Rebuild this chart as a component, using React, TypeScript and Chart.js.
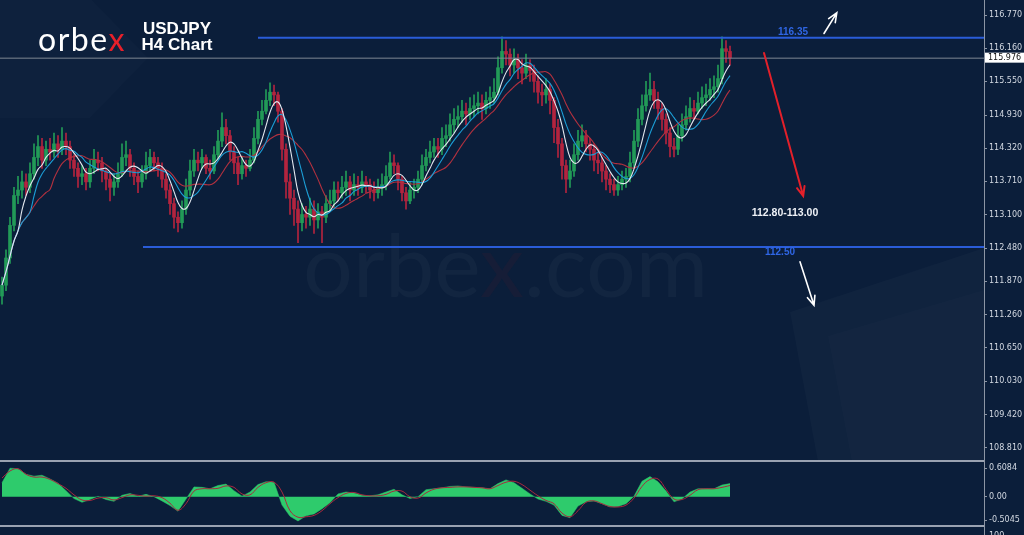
import React, { useEffect, useRef } from 'react';
import { Chart, registerables } from 'chart.js';

Chart.register(...registerables);

// ---------- DATA (USDJPY H4 candles) ----------
const opens = [
  111.60,111.80,112.30,112.90,113.45,113.55,113.70,113.60,113.85,114.15,
  114.35,114.10,114.30,114.25,114.40,114.30,114.45,114.35,114.10,113.95,
  113.80,113.85,113.70,113.95,114.10,114.05,113.90,113.75,113.60,113.70,
  113.85,114.15,114.20,113.95,113.80,113.70,113.85,114.00,114.15,114.05,
  113.95,113.75,113.55,113.30,113.05,112.95,113.20,113.55,113.90,114.10,
  114.05,114.15,113.95,113.90,114.20,114.45,114.70,114.55,114.25,114.05,
  113.85,114.00,113.95,114.10,114.50,114.85,115.00,115.20,115.35,115.30,
  115.00,114.30,113.70,113.40,113.20,112.95,113.10,113.05,113.20,113.00,
  113.15,113.05,113.30,113.35,113.55,113.50,113.60,113.70,113.55,113.65,
  113.60,113.70,113.65,113.55,113.50,113.60,113.65,113.80,114.05,114.00,
  113.75,113.50,113.35,113.55,113.60,113.75,114.00,114.15,114.25,114.35,
  114.30,114.50,114.55,114.75,114.85,114.90,115.00,114.95,115.05,115.10,
  115.15,115.05,115.20,115.25,115.35,115.80,116.10,116.05,115.85,115.95,
  115.80,115.70,115.85,115.75,115.55,115.35,115.30,115.40,115.20,114.70,
  114.40,114.00,113.75,113.90,114.20,114.45,114.55,114.40,114.30,114.10,
  114.05,113.90,113.75,113.65,113.55,113.65,113.75,113.80,114.05,114.45,
  114.85,115.10,115.30,115.40,115.20,115.05,114.85,114.60,114.35,114.30,
  114.55,114.75,114.90,115.05,115.00,115.15,115.25,115.30,115.40,115.45,
  115.60,116.15,116.10,
];
const highs = [
  111.95,112.45,113.05,113.60,113.80,113.90,113.85,114.05,114.40,114.55,
  114.50,114.45,114.50,114.60,114.55,114.70,114.60,114.45,114.20,114.05,
  114.00,113.95,114.10,114.30,114.25,114.15,113.95,113.85,113.85,114.05,
  114.40,114.45,114.30,114.05,113.90,114.00,114.25,114.30,114.25,114.15,
  114.05,113.85,113.65,113.40,113.15,113.35,113.75,114.10,114.30,114.25,
  114.30,114.20,114.10,114.35,114.65,114.97,114.85,114.65,114.35,114.15,
  114.15,114.10,114.30,114.70,115.00,115.20,115.40,115.52,115.48,115.35,
  115.05,114.40,113.85,113.55,113.35,113.30,113.25,113.40,113.35,113.30,
  113.25,113.45,113.55,113.70,113.70,113.80,113.90,113.80,113.85,113.80,
  113.90,113.80,113.75,113.70,113.75,113.85,114.00,114.25,114.20,114.05,
  113.80,113.60,113.70,113.75,113.90,114.20,114.30,114.45,114.50,114.50,
  114.70,114.75,114.95,115.05,115.10,115.20,115.15,115.25,115.30,115.35,
  115.30,115.35,115.45,115.60,116.00,116.37,116.30,116.15,116.15,116.05,
  115.95,116.05,115.95,115.85,115.65,115.50,115.60,115.50,115.25,114.85,
  114.50,114.10,114.10,114.40,114.65,114.75,114.65,114.50,114.40,114.25,
  114.15,114.00,113.85,113.75,113.80,113.90,113.95,114.25,114.65,115.05,
  115.30,115.55,115.70,115.55,115.35,115.15,114.95,114.70,114.50,114.75,
  114.95,115.10,115.25,115.20,115.35,115.45,115.50,115.60,115.65,115.85,
  116.37,116.30,116.20,
];
const lows = [
  111.45,111.70,112.20,112.80,113.30,113.40,113.45,113.50,113.75,114.00,
  113.95,114.00,114.10,114.15,114.15,114.20,114.20,113.95,113.80,113.60,
  113.65,113.55,113.60,113.85,113.90,113.70,113.55,113.35,113.45,113.60,
  113.80,114.00,113.80,113.65,113.50,113.60,113.75,113.90,113.90,113.80,
  113.60,113.40,113.10,112.85,112.78,112.85,113.10,113.45,113.80,113.90,
  113.95,113.85,113.75,113.85,114.10,114.35,114.40,114.10,113.85,113.65,
  113.75,113.80,113.90,114.05,114.40,114.75,114.95,115.10,115.10,114.80,
  114.10,113.40,113.10,112.90,112.58,112.80,112.85,112.90,112.75,112.85,
  112.58,112.95,113.15,113.25,113.35,113.40,113.45,113.35,113.45,113.45,
  113.50,113.50,113.40,113.35,113.40,113.45,113.55,113.75,113.85,113.55,
  113.35,113.20,113.30,113.40,113.50,113.65,113.90,114.05,114.15,114.15,
  114.20,114.35,114.45,114.60,114.70,114.80,114.75,114.85,114.90,114.95,
  114.85,114.95,115.05,115.15,115.30,115.70,115.85,115.65,115.70,115.60,
  115.50,115.60,115.55,115.35,115.15,115.10,115.15,114.95,114.42,114.15,
  113.75,113.50,113.60,113.80,114.10,114.35,114.25,114.10,113.90,113.85,
  113.70,113.55,113.50,113.45,113.45,113.55,113.60,113.70,113.95,114.35,
  114.75,115.00,115.20,115.05,114.85,114.65,114.40,114.16,114.16,114.20,
  114.45,114.65,114.80,114.85,114.95,115.05,115.10,115.20,115.25,115.35,
  115.50,115.90,115.85,
];
const closes = [
  111.80,112.30,112.90,113.45,113.55,113.70,113.60,113.85,114.15,114.35,
  114.10,114.30,114.25,114.40,114.30,114.45,114.35,114.10,113.95,113.80,
  113.85,113.70,113.95,114.10,114.05,113.90,113.75,113.60,113.70,113.85,
  114.15,114.20,113.95,113.80,113.70,113.85,114.00,114.15,114.05,113.95,
  113.75,113.55,113.30,113.05,112.95,113.20,113.55,113.90,114.10,114.05,
  114.15,113.95,113.90,114.20,114.45,114.70,114.55,114.25,114.05,113.85,
  114.00,113.95,114.10,114.50,114.85,115.00,115.20,115.35,115.30,115.00,
  114.30,113.70,113.40,113.20,112.95,113.10,113.05,113.20,113.00,113.15,
  113.05,113.30,113.35,113.55,113.50,113.60,113.70,113.55,113.65,113.60,
  113.70,113.65,113.55,113.50,113.60,113.65,113.80,114.05,114.00,113.75,
  113.50,113.35,113.55,113.60,113.75,114.00,114.15,114.25,114.35,114.30,
  114.50,114.55,114.75,114.85,114.90,115.00,114.95,115.05,115.10,115.15,
  115.05,115.20,115.25,115.35,115.80,116.10,116.05,115.85,115.95,115.80,
  115.70,115.85,115.75,115.55,115.35,115.30,115.40,115.20,114.70,114.40,
  114.00,113.75,113.90,114.20,114.45,114.55,114.40,114.30,114.10,114.05,
  113.90,113.75,113.65,113.55,113.65,113.75,113.80,114.05,114.45,114.85,
  115.10,115.30,115.40,115.20,115.05,114.85,114.60,114.35,114.30,114.55,
  114.75,114.90,115.05,115.00,115.15,115.25,115.30,115.40,115.45,115.60,
  116.15,116.10,115.98,
];

// Oscillator panel, read every second bar
const oscMain = [
  0.30,0.61,0.60,0.48,0.44,0.46,0.38,0.29,0.13,-0.04,
  -0.12,-0.06,0.01,-0.06,-0.10,0.03,0.07,0.01,0.05,0.00,
  -0.09,-0.19,-0.31,-0.05,0.21,0.20,0.17,0.24,0.27,0.13,
  0.01,0.10,0.26,0.32,0.31,-0.18,-0.42,-0.52,-0.41,-0.37,
  -0.26,-0.13,0.06,0.10,0.08,0.03,0.02,0.04,0.10,0.16,
  0.04,-0.04,0.00,0.15,0.17,0.19,0.22,0.23,0.21,0.20,
  0.19,0.17,0.28,0.36,0.30,0.18,0.06,-0.05,-0.10,-0.18,
  -0.40,-0.45,-0.20,-0.11,-0.09,-0.15,-0.22,-0.21,-0.15,0.01,
  0.33,0.43,0.32,0.12,-0.11,-0.05,0.10,0.17,0.17,0.17,
  0.25,0.28,
];
const oscSignal = [
  0.40,0.55,0.60,0.48,0.42,0.42,0.37,0.28,0.18,0.04,
  -0.07,-0.08,-0.03,-0.02,-0.07,-0.02,0.04,0.03,0.01,0.02,
  -0.02,-0.14,-0.29,-0.15,0.12,0.17,0.17,0.18,0.23,0.20,
  0.06,0.04,0.20,0.30,0.31,0.10,-0.30,-0.44,-0.43,-0.40,
  -0.30,-0.15,-0.02,0.07,0.09,0.04,0.02,0.02,0.05,0.12,
  0.12,0.00,-0.03,0.08,0.16,0.19,0.20,0.21,0.21,0.20,
  0.19,0.17,0.24,0.31,0.33,0.26,0.14,0.02,-0.08,-0.15,
  -0.35,-0.43,-0.30,-0.12,-0.09,-0.15,-0.21,-0.22,-0.18,-0.03,
  0.22,0.37,0.38,0.16,-0.05,-0.06,0.03,0.15,0.17,0.17,
  0.20,0.24,
];

const priceTicks = [116.77, 116.16, 115.55, 114.93, 114.32, 113.71, 113.10, 112.48, 111.87, 111.26, 110.65, 110.03, 109.42, 108.81];
const oscTicks = [0.6084, 0, -0.5045];
const oscTickLabels = ['0.6084', '0.00', '-0.5045'];
const maPeriods = [5, 8, 13];

const currentPrice = 115.976;
const resistance = 116.35;
const support = 112.5;
const resistanceStart = 64;
const supportStart = 35.25;
const levelLabels = [
  { text: '116.35', x: 197.75, y: 116.46 },
  { text: '112.50', x: 194.5, y: 112.41 },
];
const targetLabel = { text: '112.80-113.00', x: 195.75, y: 113.13 };
const arrows = [
  { from: [190.5, 116.07], to: [200.3, 113.44], color: '#e3202a', width: 2 },
  { from: [205.5, 116.43], to: [208.7, 116.81], color: '#ffffff', width: 1.6 },
  { from: [199.5, 112.23], to: [203.0, 111.43], color: '#ffffff', width: 1.6 },
];

// ---------- STYLE ----------
const BG = '#0b1e3a';
const UP = '#229a57';
const DOWN = '#b3243e';
const AXIS = '#8c95a4';
const LABEL = '#d3d9e2';
const X_MIN = -0.5;
const X_MAX = 245.5;
const AXIS_W = 40;
const TICK_FONT = { family: 'DejaVu Sans', size: 8 };

function sma(values: number[], n: number): number[] {
  return values.map((_, i) => {
    const s = Math.max(0, i - n + 1);
    let sum = 0;
    for (let j = s; j <= i; j++) sum += values[j];
    return sum / (i - s + 1);
  });
}

function drawArrow(ctx: CanvasRenderingContext2D, x1: number, y1: number, x2: number, y2: number, color: string, w: number) {
  const ang = Math.atan2(y2 - y1, x2 - x1);
  const head = 10;
  ctx.save();
  ctx.strokeStyle = color;
  ctx.lineWidth = w;
  ctx.lineCap = 'round';
  ctx.beginPath();
  ctx.moveTo(x1, y1);
  ctx.lineTo(x2, y2);
  ctx.moveTo(x2 - head * Math.cos(ang - 0.4), y2 - head * Math.sin(ang - 0.4));
  ctx.lineTo(x2, y2);
  ctx.lineTo(x2 - head * Math.cos(ang + 0.4), y2 - head * Math.sin(ang + 0.4));
  ctx.stroke();
  ctx.restore();
}

export default function App() {
  const mainRef = useRef<HTMLCanvasElement>(null);
  const oscRef = useRef<HTMLCanvasElement>(null);

  useEffect(() => {
    if (!mainRef.current || !oscRef.current) return;
    const colors = closes.map((c, i) => (c >= opens[i] ? UP : DOWN));
    const wickData = closes.map((_, i) => ({ x: i, y: [lows[i], highs[i]] }));
    const bodyData = closes.map((c, i) => {
      const lo = Math.min(opens[i], c);
      const hi = Math.max(opens[i], c);
      return { x: i, y: hi - lo < 0.02 ? [lo - 0.01, hi + 0.01] : [lo, hi] };
    });
    const [maFast, maMid, maSlow] = maPeriods.map((p) => sma(closes, p).map((v, i) => ({ x: i, y: v })));

    const decor = {
      id: 'decor',
      beforeDraw(chart: any) {
        const ctx = chart.ctx;
        ctx.save();
        ctx.fillStyle = 'rgba(255,255,255,0.014)';
        ctx.beginPath();
        ctx.moveTo(0, 0); ctx.lineTo(92, 0); ctx.lineTo(148, 58); ctx.lineTo(90, 118); ctx.lineTo(0, 118);
        ctx.closePath(); ctx.fill();
        ctx.fillStyle = 'rgba(255,255,255,0.022)';
        ctx.beginPath();
        ctx.moveTo(790, 312); ctx.lineTo(984, 248); ctx.lineTo(984, 462); ctx.lineTo(818, 462);
        ctx.closePath(); ctx.fill();
        ctx.fillStyle = 'rgba(255,255,255,0.016)';
        ctx.beginPath();
        ctx.moveTo(828, 336); ctx.lineTo(984, 290); ctx.lineTo(984, 462); ctx.lineTo(852, 462);
        ctx.closePath(); ctx.fill();
        ctx.restore();
      },
      afterDraw(chart: any) {
        const ctx = chart.ctx;
        const xs = chart.scales.x;
        const ys = chart.scales.y;
        ctx.save();
        arrows.forEach((a) => {
          drawArrow(ctx, xs.getPixelForValue(a.from[0]), ys.getPixelForValue(a.from[1]),
            xs.getPixelForValue(a.to[0]), ys.getPixelForValue(a.to[1]), a.color, a.width);
        });
        ctx.textAlign = 'center';
        ctx.textBaseline = 'middle';
        ctx.font = 'bold 10px "Liberation Sans", Arial, sans-serif';
        ctx.fillStyle = '#2f66e4';
        levelLabels.forEach((l) => ctx.fillText(l.text, xs.getPixelForValue(l.x), ys.getPixelForValue(l.y)));
        ctx.font = 'bold 10.5px "Liberation Sans", Arial, sans-serif';
        ctx.fillStyle = '#eef1f6';
        ctx.fillText(targetLabel.text, xs.getPixelForValue(targetLabel.x), ys.getPixelForValue(targetLabel.y));
        // current price box
        const py = ys.getPixelForValue(currentPrice);
        ctx.fillStyle = '#ffffff';
        ctx.fillRect(985, py - 5.5, 39, 10);
        ctx.fillStyle = '#111111';
        ctx.textAlign = 'left';
        ctx.font = '8px "DejaVu Sans", sans-serif';
        ctx.fillText(currentPrice.toFixed(3), 988, py);
        ctx.restore();
      },
    };

    const main = new Chart(mainRef.current, {
      type: 'bar',
      data: {
        datasets: [
          { type: 'line', data: [{ x: supportStart, y: support }, { x: X_MAX, y: support }], borderColor: '#2a5cd8', borderWidth: 2, pointRadius: 0, order: 1 } as any,
          { type: 'line', data: [{ x: resistanceStart, y: resistance }, { x: X_MAX, y: resistance }], borderColor: '#2a5cd8', borderWidth: 2, pointRadius: 0, order: 1 } as any,
          { type: 'line', data: [{ x: X_MIN, y: currentPrice }, { x: X_MAX, y: currentPrice }], borderColor: '#7f8794', borderWidth: 1, pointRadius: 0, order: 2 } as any,
          { type: 'line', data: maFast, borderColor: '#e4e9f0', borderWidth: 1.1, pointRadius: 0, tension: 0.4, order: 3 } as any,
          { type: 'line', data: maMid, borderColor: '#1c9ed6', borderWidth: 1.1, pointRadius: 0, tension: 0.4, order: 4 } as any,
          { type: 'line', data: maSlow, borderColor: '#b3313f', borderWidth: 1.1, pointRadius: 0, tension: 0.4, order: 5 } as any,
          { type: 'bar', data: bodyData, backgroundColor: colors, barThickness: 3, grouped: false, borderWidth: 0, order: 6 } as any,
          { type: 'bar', data: wickData, backgroundColor: colors, barThickness: 1, grouped: false, borderWidth: 0, order: 7 } as any,
        ],
      },
      options: {
        responsive: false,
        animation: false,
        devicePixelRatio: 1,
        events: [],
        layout: { padding: 0 },
        plugins: { legend: { display: false }, tooltip: { enabled: false } },
        scales: {
          x: { type: 'linear', min: X_MIN, max: X_MAX, display: false, offset: false },
          y: {
            position: 'right',
            min: 108.547,
            max: 117.046,
            afterBuildTicks: (s: any) => { s.ticks = priceTicks.map((v) => ({ value: v })); },
            afterFit: (s: any) => { s.width = AXIS_W; s.paddingTop = 0; s.paddingBottom = 0; },
            ticks: { autoSkip: false, color: LABEL, font: TICK_FONT, padding: 2, callback: (v: any) => Number(v).toFixed(3) },
            grid: { drawOnChartArea: false, color: AXIS, tickLength: 3 },
            border: { color: AXIS },
          },
        },
      } as any,
      plugins: [decor],
    });

    const oscDecor = {
      id: 'oscDecor',
      afterDraw(chart: any) {
        const ctx = chart.ctx;
        ctx.save();
        ctx.fillStyle = '#9aa2b1';
        ctx.fillRect(0, 2, 984, 2);
        ctx.fillRect(0, 67, 984, 2);
        ctx.fillStyle = AXIS;
        ctx.fillRect(984, 0, 1, 77);
        ctx.fillStyle = LABEL;
        ctx.font = '8px "DejaVu Sans", sans-serif';
        ctx.textAlign = 'left';
        ctx.textBaseline = 'alphabetic';
        ctx.fillText('100', 989, 80);
        ctx.restore();
      },
    };

    const osc = new Chart(oscRef.current, {
      type: 'line',
      data: {
        datasets: [
          { data: oscSignal.map((v, k) => ({ x: k * 2, y: v })), borderColor: '#a8283e', borderWidth: 1, pointRadius: 0, tension: 0.4, fill: false, order: 1 },
          { data: oscMain.map((v, k) => ({ x: k * 2, y: v })), borderColor: '#2ecb6c', backgroundColor: '#2ecb6c', borderWidth: 0.5, pointRadius: 0, tension: 0, fill: 'origin', order: 2 },
        ],
      },
      options: {
        responsive: false,
        animation: false,
        devicePixelRatio: 1,
        events: [],
        layout: { padding: { top: 4, bottom: 10, left: 0, right: 0 } },
        plugins: { legend: { display: false }, tooltip: { enabled: false } },
        scales: {
          x: { type: 'linear', min: X_MIN, max: X_MAX, display: false },
          y: {
            position: 'right',
            min: -0.606,
            max: 0.743,
            afterBuildTicks: (s: any) => { s.ticks = oscTicks.map((v) => ({ value: v })); },
            afterFit: (s: any) => { s.width = AXIS_W; s.paddingTop = 0; s.paddingBottom = 0; },
            ticks: {
              autoSkip: false, color: LABEL, font: TICK_FONT, padding: 2,
              callback: (v: any) => { const idx = oscTicks.indexOf(Number(v)); return idx >= 0 ? oscTickLabels[idx] : ''; },
            },
            grid: { drawOnChartArea: false, color: AXIS, tickLength: 3 },
            border: { color: AXIS },
          },
        },
      } as any,
      plugins: [oscDecor],
    });

    return () => { main.destroy(); osc.destroy(); };
  }, []);

  return (
    <div style={{ position: 'fixed', left: 0, top: 0, width: 1024, height: 535, background: BG, overflow: 'hidden' }}>
      <div style={{ position: 'absolute', left: 303, top: 219, fontFamily: 'Lato, "Open Sans", sans-serif', fontSize: 88, lineHeight: '88px', color: 'rgba(255,255,255,0.032)', whiteSpace: 'nowrap' }}>
        orbe<span style={{ color: 'rgba(90,25,45,0.14)' }}>x</span>.com
      </div>
      <canvas ref={mainRef} width={1024} height={462} style={{ position: 'absolute', left: 0, top: 0, width: 1024, height: 462 }} />
      <canvas ref={oscRef} width={1024} height={77} style={{ position: 'absolute', left: 0, top: 458, width: 1024, height: 77 }} />
      <div style={{ position: 'absolute', left: 38, top: 23, fontFamily: 'Lato, "Open Sans", sans-serif', fontSize: 32, lineHeight: '32px', color: '#ffffff', letterSpacing: 1.5, whiteSpace: 'nowrap' }}>
        orbe<span style={{ color: '#e8202a' }}>x</span>
      </div>
      <div style={{ position: 'absolute', left: 132, top: 21, width: 90, textAlign: 'center', fontFamily: '"Liberation Sans", Arial, sans-serif', fontWeight: 'bold', fontSize: 17, lineHeight: '16px', color: '#ffffff' }}>
        <div>USDJPY</div>
        <div>H4 Chart</div>
      </div>
    </div>
  );
}
